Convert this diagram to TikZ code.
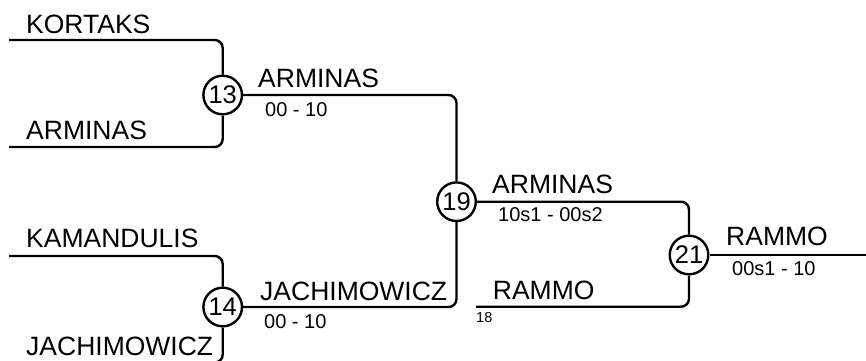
\documentclass[tikz,border=0pt]{standalone}
\usepackage{fontspec}
\setmainfont{Liberation Sans}
\begin{document}
\begin{tikzpicture}[x=1pt,y=-1pt,
  wline/.style={line width=2.4pt,rounded corners=8pt},
  gcircle/.style={circle,draw,line width=2.4pt,fill=white,minimum size=38.6pt,inner sep=0pt,font=\fontsize{25.5}{25}\selectfont},
  tname/.style={anchor=base west,inner sep=0pt,font=\fontsize{26.5}{27}\selectfont},
  tscore/.style={anchor=base west,inner sep=0pt,font=\fontsize{20}{20}\selectfont},
  tseed/.style={anchor=base west,inner sep=0pt,font=\fontsize{14.5}{15}\selectfont}]
\useasboundingbox (0,0) rectangle (866,360);
% games
\node[gcircle] (c13) at (222.7,95) {13};
\node[gcircle] (c14) at (222.7,307) {14};
\node[gcircle] (c19) at (456.5,201.7) {19};
\node[gcircle] (c21) at (689,255) {21};
% free ends
\coordinate (k1) at (9,40);
\coordinate (k2) at (9,147);
\coordinate (k3) at (9,256);
\coordinate (k4) at (9,362.5);
\coordinate (r18) at (476,306.7);
\coordinate (fin) at (870,255);
% connectors
\draw[wline] (k1) -| (c13);
\draw[wline] (k2) -| (c13);
\draw[wline] (k3) -| (c14);
\draw[wline] (k4) -| (c14);
\draw[wline] (c13) -| (c19);
\draw[wline] (c14) -| (c19);
\draw[wline] (c19) -| (c21);
\draw[wline] (r18) -| (c21);
\draw[wline] (c21) -- (fin);
% labels
\node[tname] (n1) at (26,33) {KORTAKS};
\node[tname] (n2) at (26,139) {ARMINAS};
\node[tname] (n3) at (26,247) {KAMANDULIS};
\node[tname] (n4) at (26,355.5) {JACHIMOWICZ};
\node[tname] (w13) at (258,87.5) {ARMINAS};
\node[tscore] (s13) at (265,116) {00 - 10};
\node[tname] (w14) at (260,300.7) {JACHIMOWICZ};
\node[tscore] (s14) at (264,328.3) {00 - 10};
\node[tname] (w19) at (492,193.3) {ARMINAS};
\node[tscore] (s19) at (498,221.7) {10s1 - 00s2};
\node[tname] (n18) at (492.7,299) {RAMMO};
\node[tseed] (sd18) at (476,322.7) {18};
\node[tname] (w21) at (726,245) {RAMMO};
\node[tscore] (s21) at (732,275) {00s1 - 10};
\end{tikzpicture}
\end{document}
